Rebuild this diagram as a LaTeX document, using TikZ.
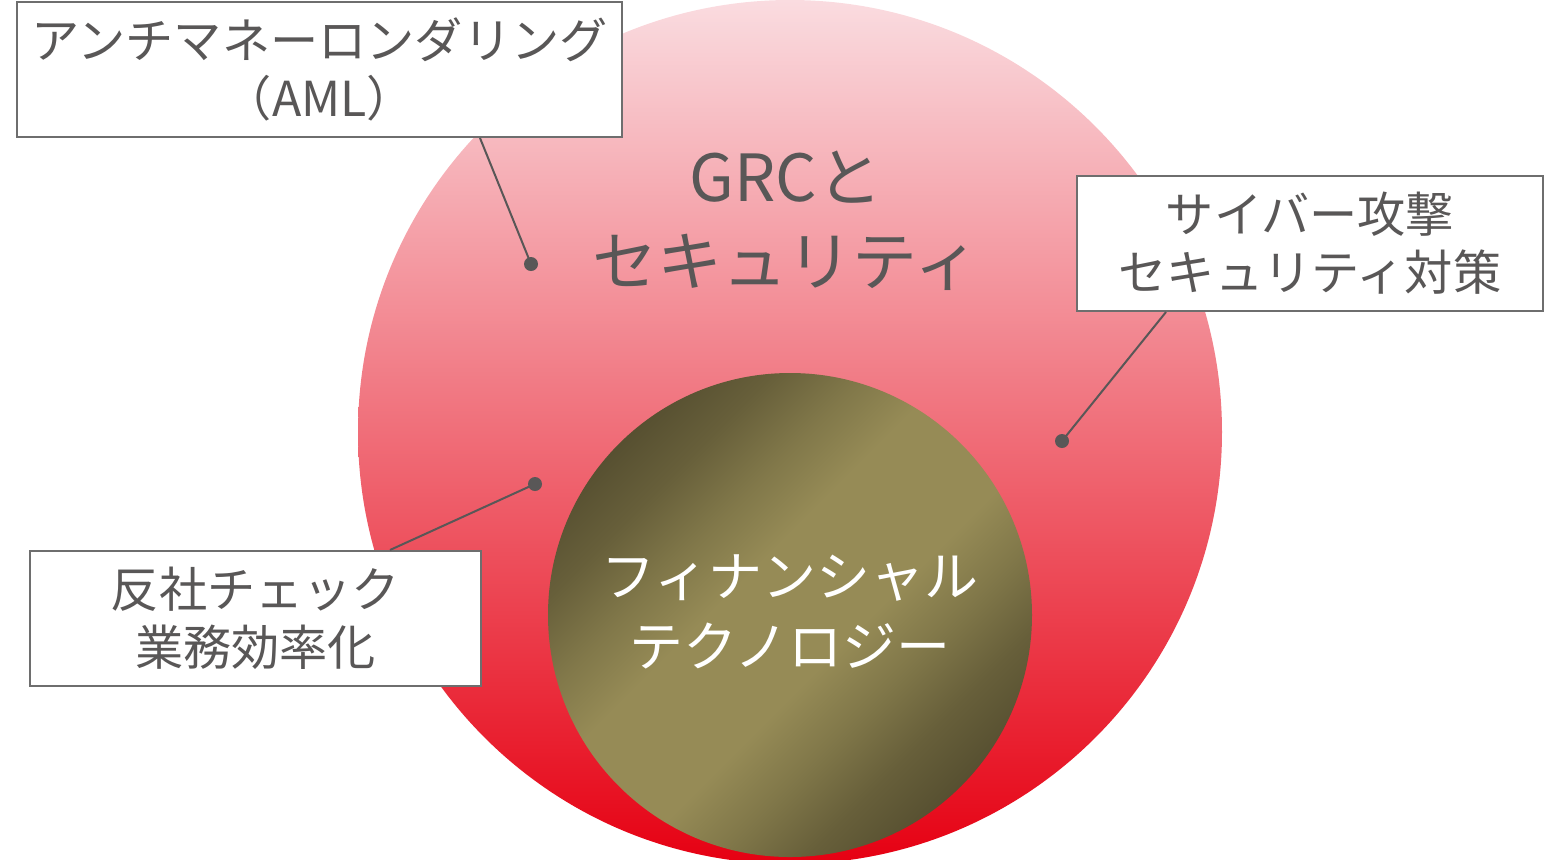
\documentclass[tikz,border=0pt]{standalone}
\usepackage{fontspec}
\setmainfont{Noto Sans CJK JP}
\usetikzlibrary{calc}

\definecolor{txtgray}{HTML}{595757}
\definecolor{boxgray}{HTML}{6E6E6E}
\definecolor{pinktop}{HTML}{FADCE0}
\definecolor{redbottom}{HTML}{E60012}
\definecolor{olivelight}{HTML}{968B56}
\definecolor{olivemid}{HTML}{807749}
\definecolor{olivedusk}{HTML}{675F3A}
\definecolor{olivedark}{HTML}{575031}

\pgfdeclareverticalshading{olivediag}{100bp}{
    color(0bp)=(olivedark); color(25bp)=(olivedark); color(31bp)=(olivedusk);
    color(37.5bp)=(olivemid); color(44bp)=(olivelight); color(56bp)=(olivelight);
    color(62.5bp)=(olivemid); color(69bp)=(olivedusk); color(75bp)=(olivedark);
    color(100bp)=(olivedark)}

\begin{document}
\begin{tikzpicture}[
    x=0.5pt, y=-0.5pt,
    disk/.style={circle, inner sep=0pt, draw=none},
    callout/.style={rectangle, draw=boxgray, line width=1pt, fill=white, minimum height=67.5pt, inner sep=0pt, align=center, text=txtgray, font=\fontsize{24.1}{29}\selectfont},
    dot/.style={circle, fill=txtgray, inner sep=0pt, minimum size=7pt},
    lead/.style={draw=txtgray, line width=1pt}
]
    \useasboundingbox (0,0) rectangle (1544,859);

    % --- Outer circle ---
    \node[disk, minimum size=432pt, top color=pinktop, bottom color=redbottom] (grc) at (790,432) {};
    \node[font=\fontsize{32.5}{42}\selectfont, text=txtgray, align=center] (grctext) at (786,221) {GRCと\\セキュリティ};

    % --- Inner circle ---
    \node[disk, minimum size=242pt, shading=olivediag, shading angle=45] (fintech) at (790,615) {};
    \node[font=\fontsize{27}{35}\selectfont, text=white, align=center] (fintechtext) at (790,612) {フィナンシャル\\テクノロジー};

    % --- Callout boxes ---
    \node[callout, minimum width=302.5pt] (aml) at (319.5,69.5) {アンチマネーロンダリング\\（AML）};
    \node[callout, minimum width=233pt] (cyber) at (1310,243.5) {サイバー攻撃\\セキュリティ対策};
    \node[callout, minimum width=225.5pt] (hansha) at (255.5,618.5) {反社チェック\\業務効率化};

    % --- Dots and leader lines ---
    \node[dot] (amldot) at (531,264) {};
    \node[dot] (cyberdot) at (1062,441) {};
    \node[dot] (hanshadot) at (535,484) {};

    \draw[lead] (amldot.center) -- ($(aml.south)+(160.5,0)$);
    \draw[lead] (cyberdot.center) -- ($(cyber.south)+(-144,0)$);
    \draw[lead] (hanshadot.center) -- ($(hansha.north)+(134.5,0)$);

\end{tikzpicture}
\end{document}
